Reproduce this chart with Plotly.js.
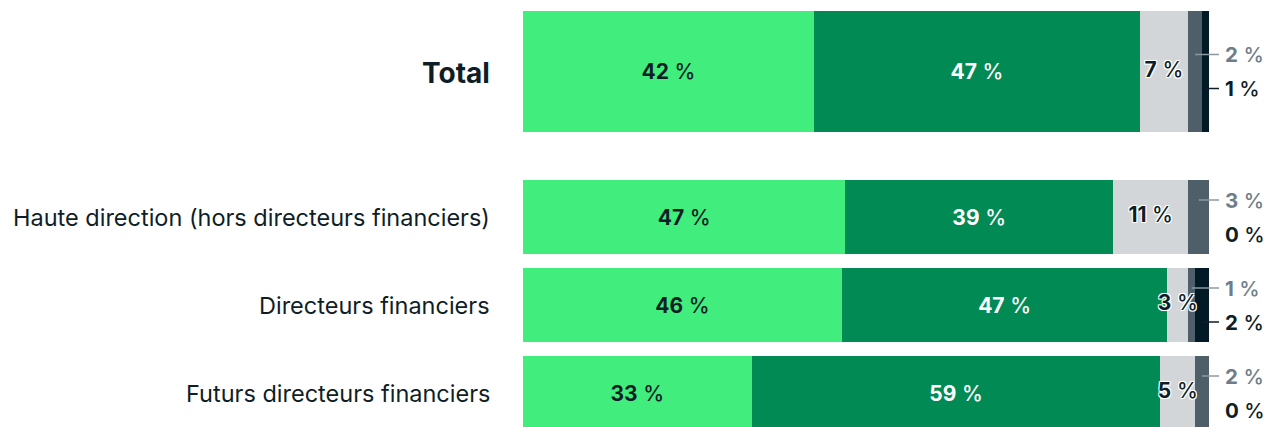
<!DOCTYPE html>
<html>
<head>
<meta charset="utf-8">
<script src="https://cdn.plot.ly/plotly-3.0.1.min.js"></script>
<style>
  html, body { margin: 0; padding: 0; background: #ffffff; }
  #chart { width: 1278px; height: 427px; }
</style>
</head>
<body>
<div id="chart"></div>
<script>
// ---- data ----
const categories = ["Total", "Haute direction (hors directeurs financiers)", "Directeurs financiers", "Futurs directeurs financiers"];
const seg1 = [42, 47, 46, 33];
const seg2 = [47, 39, 47, 59];
const seg3 = [7, 11, 3, 5];
const seg4 = [2, 3, 1, 2];
const seg5 = [1, 0, 2, 0];

// ---- layout constants (row placement, in pixel-like axis units) ----
const rowCenters = [71.5, 217, 305, 393];
const rowHeights = [121, 74, 74, 74];

const colors = ["#41ee7d", "#028a55", "#d3d6d9", "#4e5f69", "#021a26"];
const dark = "#0f1e26";
const greyLabel = "#6e7e88";
const FONT = "Inter, 'Noto Sans', sans-serif";

const PLOT_LEFT = 523, BAR_RIGHT = 1209, W = 1278;
const pxToX = px => (px - PLOT_LEFT) / (BAR_RIGHT - PLOT_LEFT) * 100;
const xMax = pxToX(W);

function mkText(arr) { return arr.map(v => `<b>${v}</b> %`); }

const series = [seg1, seg2, seg3, seg4, seg5];
const traces = series.map((s, i) => {
  const t = {
    type: "bar",
    orientation: "h",
    x: s,
    y: rowCenters,
    width: rowHeights,
    marker: { color: colors[i], line: { width: 0 } },
    hoverinfo: "skip",
    showlegend: false
  };
  if (i < 2) {
    t.text = mkText(s);
    t.textposition = "inside";
    t.insidetextanchor = "middle";
    t.constraintext = "none";
    t.textangle = 0;
    t.textfont = { family: FONT, size: 21, weight: 500, color: i === 1 ? "#ffffff" : dark };
  } else {
    t.textposition = "none";
  }
  return t;
});

// labels of the third segment are drawn on top of all bars (they may overflow)
const seg3Mid = rowCenters.map((_, r) => {
  const sum = seg1[r] + seg2[r] + seg3[r] + seg4[r] + seg5[r];
  return (seg1[r] + seg2[r] + seg3[r] / 2) / sum * 100;
});
traces.push({
  type: "scatter",
  mode: "text",
  x: seg3Mid,
  y: rowCenters,
  text: mkText(seg3),
  textposition: "middle center",
  cliponaxis: false,
  textfont: {
    family: FONT, size: 21, weight: 500, color: dark,
    shadow: "-1px -1px 0 #fff, 1px -1px 0 #fff, -1px 1px 0 #fff, 1px 1px 0 #fff, 0 0 2px #fff"
  },
  hoverinfo: "skip",
  showlegend: false
});

const annotations = [];
const shapes = [];
categories.forEach((c, r) => {
  annotations.push({
    xref: "paper", x: 0, xanchor: "right", xshift: -31,
    yref: "y", y: rowCenters[r] + (r === 0 ? 1 : 0), yanchor: "middle",
    text: r === 0 ? `<b>${c}</b>` : c,
    showarrow: false,
    font: { family: FONT, size: r === 0 ? 28 : 23.5, color: dark }
  });
  const sum = seg1[r] + seg2[r] + seg3[r] + seg4[r] + seg5[r];
  const before4 = seg1[r] + seg2[r] + seg3[r];
  const mid4 = (before4 + seg4[r] / 2) / sum * 100;
  const mid5 = (before4 + seg4[r] + seg5[r] / 2) / sum * 100;
  const yUp = rowCenters[r] - 17, yDn = rowCenters[r] + 17;
  annotations.push({
    xref: "x", x: pxToX(1223), xanchor: "left", yref: "y", y: yUp, yanchor: "middle",
    text: `<b>${seg4[r]}</b> %`, showarrow: false,
    font: { family: FONT, size: 20.5, weight: 500, color: greyLabel }
  });
  annotations.push({
    xref: "x", x: pxToX(1223), xanchor: "left", yref: "y", y: yDn, yanchor: "middle",
    text: `<b>${seg5[r]}</b> %`, showarrow: false,
    font: { family: FONT, size: 20.5, weight: 500, color: dark }
  });
  if (seg4[r] > 0) {
    shapes.push({ type: "line", xref: "x", yref: "y", x0: mid4, x1: pxToX(1219), y0: yUp, y1: yUp,
      line: { color: "#8d9aa2", width: 1.5 } });
  }
  if (seg5[r] > 0) {
    shapes.push({ type: "line", xref: "x", yref: "y", x0: mid5, x1: pxToX(1219), y0: yDn, y1: yDn,
      line: { color: dark, width: 1.5 } });
  }
});

const layout = {
  width: W, height: 427,
  margin: { l: PLOT_LEFT, r: 0, t: 0, b: 0, pad: 0 },
  paper_bgcolor: "#ffffff", plot_bgcolor: "#ffffff",
  barmode: "stack", barnorm: "percent",
  xaxis: { range: [0, xMax], visible: false, fixedrange: true },
  yaxis: { range: [427, 0], visible: false, fixedrange: true },
  annotations: annotations,
  shapes: shapes,
  font: { family: FONT, color: dark }
};

Plotly.newPlot("chart", traces, layout, { displayModeBar: false, staticPlot: true });
</script>
</body>
</html>
